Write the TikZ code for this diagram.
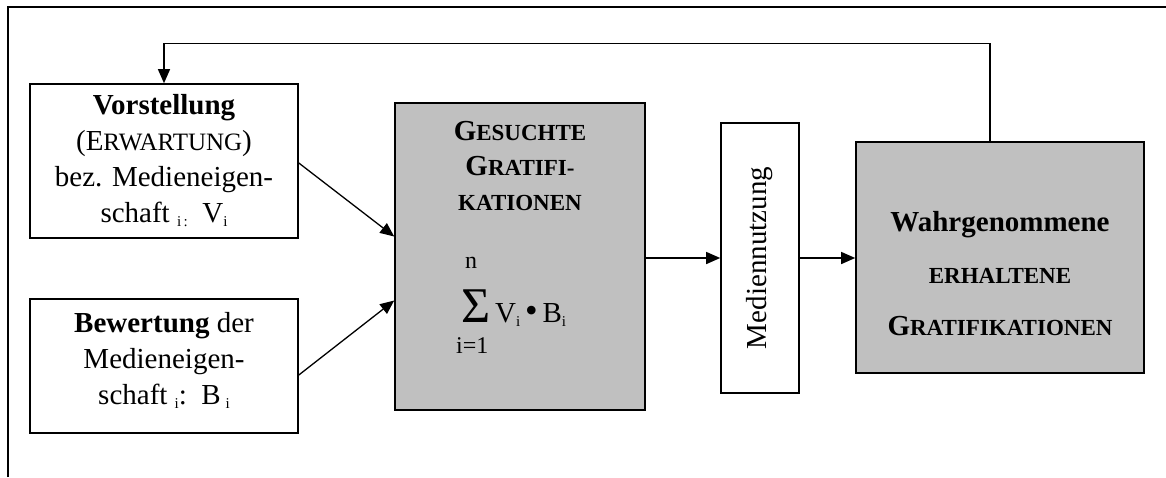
\documentclass[tikz,border=0pt]{standalone}
\usepackage{fontspec}
\setmainfont{Liberation Serif}
\usetikzlibrary{arrows.meta,positioning,calc}
\definecolor{gfFill}{HTML}{C0C0C0}

% small capitals by hand, lowered indices
\newcommand{\ksc}[1]{{\fontsize{23}{36}\selectfont #1}}
\newcommand{\kscr}[1]{{\fontsize{25}{36}\selectfont #1}}
\newcommand{\idx}[1]{\raisebox{-4pt}{\fontsize{15}{15}\selectfont #1}}

\tikzset{
  gfnode/.style={
    draw, line width=1.6pt, inner sep=0pt, align=center,
    font={\fontsize{29}{36}\selectfont}
  },
  inbox/.style={gfnode, fill=white, minimum width=268pt},
  gbox/.style={gfnode, fill=gfFill},
  usebox/.style={gfnode, fill=white, minimum width=78pt, minimum height=270pt},
  gtitle/.style={inner sep=0pt, align=center, font={\fontsize{29}{35}\selectfont\bfseries}},
  sumtext/.style={inner sep=0pt, anchor=base west, font={\fontsize{24}{24}\selectfont}},
  flow/.style={-{Triangle[length=14pt,width=12pt]}, line width=1.3pt},
  frame/.style={line width=1.8pt}
}

\begin{document}
\begin{tikzpicture}[x=1pt, y=-1pt]
  \useasboundingbox (0,0) rectangle (1166,477);
  \draw[frame] (8,477) -- (8,7) -- (1166,7);

  % inputs
  \node[inbox, minimum height=154pt] (vor) at (164,161)
    {\textbf{Vorstellung}\\(E\kscr{RWARTUNG})\\bez. Medieneigen-\\schaft \idx{i\,:}\enspace V\idx{i}};
  \node[inbox, minimum height=134pt] (bew) at (164,366)
    {\textbf{Bewertung} der\\Medieneigen-\\schaft \idx{i}:\enspace B\,\idx{i}\rule[-16pt]{0pt}{0pt}};

  % sought gratifications
  \node[gbox, minimum width=250pt, minimum height=307pt] (ges) at (520,256.5) {};
  \node[gtitle, anchor=north] (gestitle) at ([yshift=-19pt]ges.north)
    {G\ksc{ESUCHTE}\\G\ksc{RATIFI-}\\\ksc{KATIONEN}};
  \node[sumtext] (sumn) at (465,268) {n};
  \node[sumtext, font={\fontsize{29}{29}\selectfont}] (sumsig) at (461,322)
    {{\fontsize{50}{50}\selectfont Σ}\,V\idx{i}\,{\fontsize{36}{36}\selectfont •}\,B\idx{i}};
  \node[sumtext] (sumi) at (456,353) {i=1};

  % use and obtained gratifications
  \node[usebox] (med) at (760,258) {\rotatebox{90}{Mediennutzung}};
  \node[gbox, minimum width=288pt, minimum height=231pt,
        font={\fontsize{29}{52}\selectfont\bfseries}] (wahr) at (1000,257.5)
    {\rule{0pt}{52pt}Wahrgenommene\\\ksc{ERHALTENE}\\G\ksc{RATIFIKATIONEN}};

  \draw[flow] ([yshift=-2pt]vor.east) -- ([yshift=20pt]ges.west);
  \draw[flow] ([yshift=-9pt]bew.east) -- ([yshift=-44pt]ges.west);
  \draw[flow] (ges.east |- med.west) -- (med.west);
  \draw[flow] (med.east) -- (med.east -| wahr.west);
  \draw[flow] ([xshift=-10pt]wahr.north) |- ([yshift=40pt]vor.north) -- (vor.north);
\end{tikzpicture}
\end{document}
